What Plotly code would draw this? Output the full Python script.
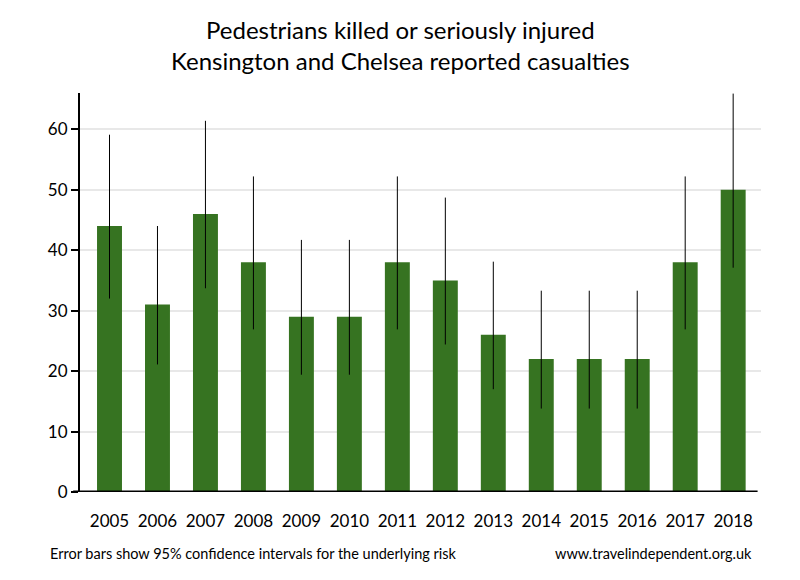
import plotly.graph_objects as go

years = ["2005", "2006", "2007", "2008", "2009", "2010", "2011", "2012",
         "2013", "2014", "2015", "2016", "2017", "2018"]
casualties = [44, 31, 46, 38, 29, 29, 38, 35, 26, 22, 22, 22, 38, 50]
ci_upper = [59.1, 44.0, 61.4, 52.2, 41.7, 41.7, 52.2, 48.7, 38.1, 33.3, 33.3, 33.3, 52.2, 65.9]
ci_lower = [32.0, 21.1, 33.7, 26.9, 19.4, 19.4, 26.9, 24.4, 17.0, 13.8, 13.8, 13.8, 26.9, 37.1]

err_plus = [u - v for u, v in zip(ci_upper, casualties)]
err_minus = [v - l for v, l in zip(casualties, ci_lower)]

FONT = "Lato, 'Open Sans', sans-serif"

fig = go.Figure()
fig.add_trace(go.Bar(
    x=list(range(len(years))),
    y=casualties,
    width=0.52,
    marker=dict(color="#367321", line=dict(width=0)),
    error_y=dict(type="data", symmetric=False, array=err_plus, arrayminus=err_minus,
                 color="black", thickness=1, width=0),
    hoverinfo="x+y",
))

fig.update_layout(
    width=800, height=580,
    margin=dict(l=80, r=39, t=93, b=88),
    paper_bgcolor="white", plot_bgcolor="white",
    showlegend=False,
    font=dict(family=FONT, color="black"),
    xaxis=dict(
        tickmode="array", tickvals=list(range(len(years))), ticktext=years,
        range=[-0.615, 13.58], showgrid=False, zeroline=False,
        showline=False, ticks="", tickfont=dict(size=17, family=FONT),
        ticklabelstandoff=17,
    ),
    yaxis=dict(
        range=[0, 66], dtick=10, showgrid=True, gridcolor="#e8e8e8", gridwidth=2,
        zeroline=False, showline=True, linecolor="black", linewidth=2,
        ticks="outside", ticklen=7, tickwidth=2, tickcolor="black",
        tickfont=dict(size=17, family=FONT),
    ),
)

# baseline at zero
fig.add_shape(type="line", xref="paper", yref="y", x0=-0.01, x1=0.995, y0=0, y1=0,
              line=dict(color="black", width=3), layer="above")

title_lines = ["Pedestrians killed or seriously injured",
               "Kensington and Chelsea reported casualties"]
for i, line in enumerate(title_lines):
    fig.add_annotation(text=line, xref="paper", yref="paper",
                       x=(400 - 80) / 681, y=(492 - (29 + 31 * i)) / 399,
                       xanchor="center", yanchor="middle", showarrow=False,
                       font=dict(size=24, family=FONT, color="black"))

fig.add_annotation(text="Error bars show 95% confidence intervals for the underlying risk",
                   xref="paper", yref="paper", x=-0.047, y=-0.155, xanchor="left", yanchor="middle",
                   showarrow=False, font=dict(size=14.5, family=FONT, color="black"))
fig.add_annotation(text="www.travelindependent.org.uk",
                   xref="paper", yref="paper", x=0.99, y=-0.155, xanchor="right", yanchor="middle",
                   showarrow=False, font=dict(size=14.5, family=FONT, color="black"))

fig.write_html("out.html")
